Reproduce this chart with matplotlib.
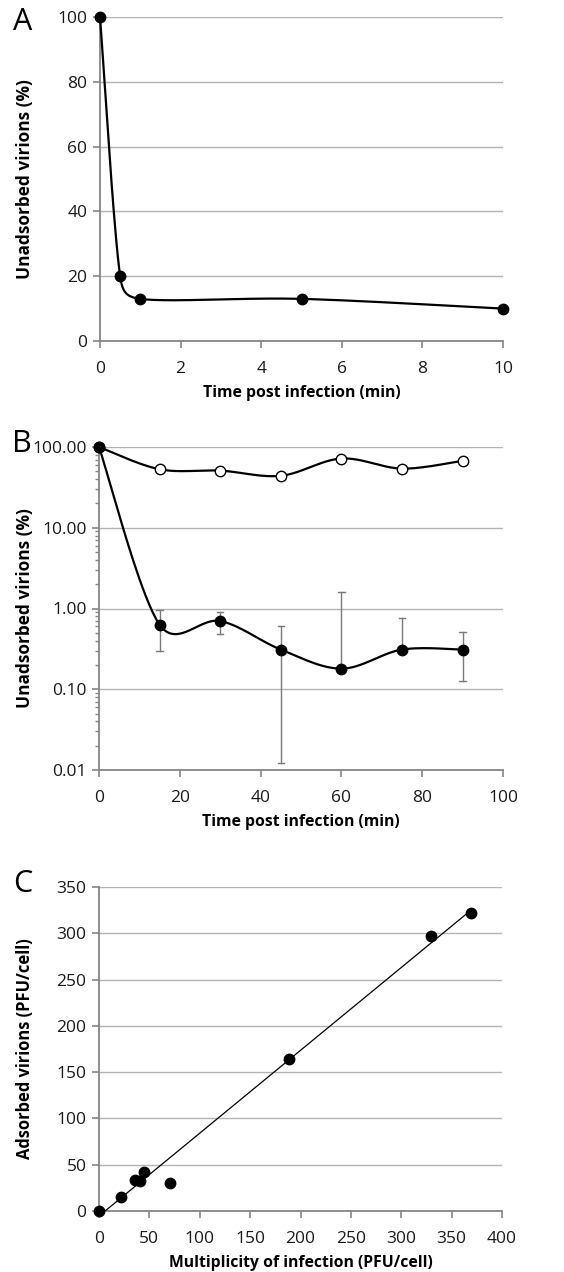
import numpy as np
import matplotlib
matplotlib.use("Agg")
import matplotlib.pyplot as plt
from matplotlib.ticker import FixedLocator, LogLocator, NullFormatter, FuncFormatter

plt.rcParams['font.family'] = ['Open Sans', 'DejaVu Sans']

# ---------------- data ----------------
# Panel A
a_time = [0, 0.5, 1, 5, 10]
a_unads = [100, 20, 13, 13, 10]

# Panel B
b_time = [0, 15, 30, 45, 60, 75, 90]
b_filled = [100, 0.63, 0.70, 0.31, 0.18, 0.31, 0.31]
b_err_hi = [100, 0.95, 0.905, 0.61, 1.62, 0.76, 0.51]      # upper end of bars
b_err_lo = [100, 0.30, 0.48, 0.0123, None, None, 0.128]   # lower end of bars
b_open = [100, 53, 51, 44, 72, 54, 67.5]

# Panel C
c_moi = [0, 21.5, 35.7, 41, 44.3, 70, 189, 330, 369.5]
c_ads = [0, 15, 34, 32, 42.5, 30, 164, 297, 322]

# ---------------- helpers ----------------
W, H = 564, 1272
fig = plt.figure(figsize=(W / 100, H / 100), dpi=100)

GRID = '#b3b3b3'
SPINE = '#868686'
TICKFS = 12.5
XLABFS = 11.3
LETTERFS = 22


def axes_px(l, t, r, b):
    ax = fig.add_axes([l / W, 1 - b / H, (r - l) / W, (b - t) / H])
    ax._px = (l, t, r, b)
    return ax


def style(ax):
    for s in ['top', 'right']:
        ax.spines[s].set_visible(False)
    for s in ['left', 'bottom']:
        ax.spines[s].set_color(SPINE)
        ax.spines[s].set_linewidth(1.3)
    ax.tick_params(which='major', direction='out', length=5, width=1.2,
                   color=SPINE, labelsize=TICKFS, labelcolor='#1a1a1a')
    ax.tick_params(axis='x', which='major', pad=9.5)
    ax.tick_params(axis='y', which='major', pad=4)
    ax.yaxis.grid(True, color=GRID, linewidth=1.0)
    ax.set_axisbelow(True)


def place_labels(ax, xlabel, ylabel, yfs):
    l, t, r, b = ax._px
    ax.set_xlabel(xlabel, fontsize=XLABFS, fontweight='bold')
    ax.set_ylabel(ylabel, fontsize=yfs, fontweight='bold')
    ax.xaxis.set_label_coords(0.5, -52 / (b - t))
    ax.xaxis.label.set_va('center')
    ax.yaxis.set_label_coords((25 - l) / (r - l), 0.5)
    ax.yaxis.label.set_va('center')


def smooth(ax, x, y, logy=False, n=40):
    """Excel-like smoothed line: cubic Bezier, tangent (p2-p0)/6 capped at half the segment."""
    x0, x1 = ax.get_xlim()
    y0, y1 = ax.get_ylim()
    pos = ax.get_position()
    wpx, hpx = pos.width * W, pos.height * H
    f = np.log10 if logy else (lambda v: np.asarray(v, float))
    X = (np.asarray(x, float) - x0) / (x1 - x0) * wpx
    Y = (f(np.asarray(y, float)) - f(y0)) / (f(y1) - f(y0)) * hpx
    P = np.column_stack([X, Y])
    m = len(P)

    def cap(v, lim):
        n_ = np.linalg.norm(v)
        return v * (lim / n_) if n_ > lim else v

    out = []
    for i in range(m - 1):
        p0 = P[i - 1] if i > 0 else P[i]
        p1, p2 = P[i], P[i + 1]
        p3 = P[i + 2] if i + 2 < m else P[i + 1]
        half = np.linalg.norm(p2 - p1) / 2
        c1 = p1 + cap((p2 - p0) / 6, half)
        c2 = p2 - cap((p3 - p1) / 6, half)
        t = np.linspace(0, 1, n)[:, None]
        seg = ((1 - t) ** 3) * p1 + 3 * ((1 - t) ** 2) * t * c1 + 3 * (1 - t) * t ** 2 * c2 + t ** 3 * p2
        out.append(seg if i == 0 else seg[1:])
    S = np.vstack(out)
    xs = S[:, 0] / wpx * (x1 - x0) + x0
    ys_n = S[:, 1] / hpx * (f(y1) - f(y0)) + f(y0)
    ys = 10 ** ys_n if logy else ys_n
    return xs, ys


# ---------------- Panel A ----------------
axA = axes_px(100, 17, 503, 341)
style(axA)
axA.set_xlim(0, 10)
axA.set_ylim(0, 100)
axA.set_xticks(range(0, 11, 2))
axA.set_yticks(range(0, 101, 20))
xs, ys = smooth(axA, a_time, a_unads)
axA.plot(xs, ys, color='black', lw=1.6, clip_on=False, zorder=3)
axA.plot(a_time, a_unads, 'o', color='black', ms=7.5, clip_on=False, zorder=4)
place_labels(axA, 'Time post infection (min)', 'Unadsorbed virions (%)', 12.4)
fig.text(23 / W, 1 - 21.5 / H, 'A', fontsize=LETTERFS, va='center', ha='center')

# ---------------- Panel B ----------------
axB = axes_px(99, 447, 503, 770)
style(axB)
axB.set_yscale('log')
axB.set_xlim(0, 100)
axB.set_ylim(0.01, 100)
axB.set_xticks(range(0, 101, 20))
axB.yaxis.set_major_locator(FixedLocator([0.01, 0.1, 1, 10, 100]))
axB.yaxis.set_major_formatter(FuncFormatter(lambda v, p: f'{v:.2f}'))
axB.yaxis.set_minor_locator(LogLocator(base=10, subs=np.arange(2, 10)))
axB.yaxis.set_minor_formatter(NullFormatter())
axB.tick_params(axis='y', which='minor', direction='out', length=3, width=1.0, color=SPINE)

xs, ys = smooth(axB, b_time, b_open, logy=True)
axB.plot(xs, ys, color='black', lw=1.6, clip_on=False, zorder=3)
axB.plot(b_time, b_open, 'o', mfc='white', mec='black', mew=1.0, ms=7.5, clip_on=False, zorder=4)

xs, ys = smooth(axB, b_time, b_filled, logy=True)
axB.plot(xs, ys, color='black', lw=1.6, clip_on=False, zorder=3)
ERR = '#7a7a7a'
for t, v, hi, lo in zip(b_time[1:], b_filled[1:], b_err_hi[1:], b_err_lo[1:]):
    axB.plot([t, t], [v, hi], color=ERR, lw=1.0, zorder=2)
    axB.plot([t - 0.8, t + 0.8], [hi, hi], color=ERR, lw=1.0, zorder=2)
    if lo is not None:
        axB.plot([t, t], [v, lo], color=ERR, lw=1.0, zorder=2)
        axB.plot([t - 0.8, t + 0.8], [lo, lo], color=ERR, lw=1.0, zorder=2)
axB.plot(b_time, b_filled, 'o', color='black', ms=7.5, clip_on=False, zorder=5)
place_labels(axB, 'Time post infection (min)', 'Unadsorbed virions (%)', 12.4)
fig.text(22 / W, 1 - 444 / H, 'B', fontsize=LETTERFS, va='center', ha='center')

# ---------------- Panel C ----------------
axC = axes_px(99, 887, 502, 1211)
style(axC)
axC.set_xlim(0, 400)
axC.set_ylim(0, 350)
axC.set_xticks(range(0, 401, 50))
axC.set_yticks(range(0, 351, 50))
slope, icpt = np.polyfit(c_moi, c_ads, 1)
fx = np.array([0, max(c_moi)])
axC.plot(fx, slope * fx + icpt, color='black', lw=0.9, zorder=3)
axC.plot(c_moi, c_ads, 'o', color='black', ms=7.5, clip_on=False, zorder=4)
place_labels(axC, 'Multiplicity of infection (PFU/cell)', 'Adsorbed virions (PFU/cell)', 11.9)
fig.text(22.5 / W, 1 - 884 / H, 'C', fontsize=LETTERFS, va='center', ha='center')

fig.savefig('out.png', dpi=100, facecolor='white')
